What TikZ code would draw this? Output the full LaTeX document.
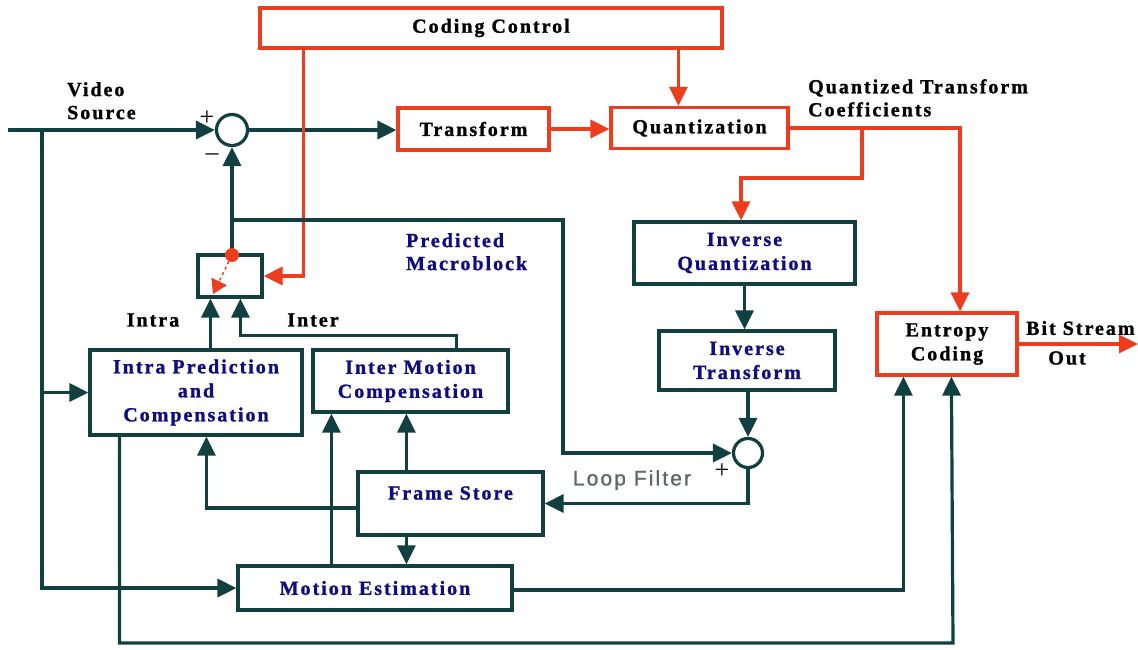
\documentclass[tikz,border=0pt]{standalone}
\usepackage{fontspec}
\setmainfont{Liberation Serif}[LetterSpace=10,BoldFeatures={FakeBold=1.2}]
\newfontfamily\loopfont{Liberation Sans}[LetterSpace=10,FakeBold=1]
\usetikzlibrary{arrows.meta,calc}
\definecolor{dk}{RGB}{18,64,64}
\definecolor{rd}{RGB}{236,62,30}
\definecolor{nv}{RGB}{14,14,130}
\definecolor{gr}{RGB}{95,105,105}
\tikzset{
  tip/.style={-{Triangle[length=19pt,width=18pt]}},
  dkline/.style={draw=dk,line width=3.2pt},
  rdline/.style={draw=rd,line width=3.2pt},
  box/.style={rectangle,fill=white,line width=3.2pt,inner sep=0pt,align=center,
    font=\bfseries\fontsize{20}{24}\selectfont},
  redbox/.style={box,draw=rd,text=black},
  dkbox/.style={box,draw=dk,text=nv},
  sumc/.style={circle,draw=dk,line width=3.2pt,fill=white,minimum size=31pt,inner sep=0pt},
  lbl/.style={inner sep=0pt,align=left,font=\bfseries\fontsize{20}{23}\selectfont},
  sgn/.style={inner sep=0pt,font=\fontsize{26}{26}\selectfont},
}
\begin{document}
\begin{tikzpicture}[x=1pt,y=-1pt]
\useasboundingbox (0,0) rectangle (1138,649);

% blocks
\node[redbox,minimum width=462pt,minimum height=40pt] (cc) at (491,28) {Coding Control};
\node[redbox,minimum width=151pt,minimum height=42pt] (tr) at (473.5,129) {Transform};
\node[redbox,minimum width=177pt,minimum height=41pt] (qu) at (699.5,128) {Quantization};
\node[dkbox,minimum width=64pt,minimum height=42pt] (sw) at (230,276) {};
\node[dkbox,minimum width=221pt,minimum height=62pt] (iq) at (744.5,253) {Inverse\\Quantization};
\node[dkbox,minimum width=176pt,minimum height=59pt] (it) at (747,360.5) {Inverse\\Transform};
\node[redbox,minimum width=140pt,minimum height=62pt] (ec) at (947,344) {Entropy\\Coding};
\node[dkbox,minimum width=212pt,minimum height=85pt] (ip) at (196,392.5) {Intra Prediction\\and\\Compensation};
\node[dkbox,minimum width=195pt,minimum height=62pt] (im) at (410.5,381) {Inter Motion\\Compensation};
\node[dkbox,minimum width=185pt,minimum height=63pt] (fs) at (450.5,503.5) {};
\node[box,text=nv,inner sep=0pt] (fst) at (450.5,493) {Frame Store};
\node[dkbox,minimum width=274pt,minimum height=44pt] (me) at (375,588) {Motion Estimation};
\node[sumc] (s1) at (232,130) {};
\node[sumc,minimum size=29pt] (s2) at (748,453) {};

% labels
\node[lbl,anchor=north west] (vs) at (67,82) {Video\\Source};
\node[lbl,anchor=north west] (qtc) at (808,79) {Quantized Transform\\Coefficients};
\node[lbl,anchor=north west,text=nv] (pm) at (406,233) {Predicted\\Macroblock};
\node[lbl] (lintra) at (153,320) {Intra};
\node[lbl] (linter) at (313,320) {Inter};
\node[lbl,anchor=west] (bs) at (1026,328) {Bit Stream};
\node[lbl] (bso) at (1067,358) {Out};
\node[inner sep=0pt,text=gr,font=\loopfont\fontsize{21}{21}\selectfont] (lf) at (632,480) {Loop Filter};
\node[sgn] (p1) at (207,118) {+};
\node[sgn] (m1) at (212,157) {\textendash};
\node[sgn] (p2) at (722,471) {+};

% free ends and bends
\coordinate (vin) at (8,130);
\coordinate (vj) at (42,130);
\coordinate (pb) at (232,220);
\coordinate (pc) at (563,220);
\coordinate (out) at (1138,345);
\coordinate (qb) at (862,128);

% forward path
\draw[dkline,tip] (vin) -- (s1.west);
\draw[dkline,tip] (s1.east) -- (s1.east -| tr.west);
\draw[rdline,tip] (tr.east) -- (tr.east -| qu.west);
\draw[rdline,tip] ($(cc.south west)+(420,0)$) -- ($(qu.north west)+(69,0)$);
\draw[rdline,tip] ($(cc.south west)+(45,0)$) |- (sw.east);
\draw[rdline,tip] (qu.east) -| ($(ec.north)+(13,0)$);
\draw[rdline,tip] (qb) |- ++(-121,50) -- ($(iq.north)+(-3.5,0)$);
\draw[rdline,tip] (ec.east) -- (ec.east -| out);

% inverse path and reconstruction
\draw[dkline,tip] (iq.south) -- (iq.south |- it.north);
\draw[dkline,tip] (it.south -| s2) -- (s2.north);
\draw[dkline,tip] (pb) -- (pc) |- (s2.west);
\draw[dkline,tip] (s2.south) |- (fs.east);

% prediction
\draw[dkline,tip] (sw.north -| s1) -- (s1.south);
\draw[dkline,tip] (vj) |- (me.west);
\draw[dkline,tip] (vj |- ip.west) -- (ip.west);
\draw[dkline,tip] ($(fs.north west)+(50,0)$) -- ($(im.south west)+(95,0)$);
\draw[dkline,tip] ($(fs.south west)+(50,0)$) -- ($(me.north west)+(170,0)$);
\draw[dkline,tip] ($(fs.west)+(0,4.5)$) -| ($(ip.south west)+(118,0)$);
\draw[dkline,tip] ($(me.north west)+(95,0)$) -- ($(im.south west)+(20,0)$);
\draw[dkline,tip] ($(ip.north west)+(122,0)$) -- ($(sw.south west)+(14,0)$);
\draw[dkline,tip] ($(im.north west)+(145,0)$) |- ++(-216,-13) -- ($(sw.south west)+(44,0)$);
\draw[dkline,tip] ($(me.east)+(0,2)$) -| ($(ec.south west)+(28,0)$);
\draw[dkline,tip] ($(ip.south west)+(31,0)$) |- (953,643) -- ($(ec.south west)+(76,0)$);

% mode switch
\node[circle,fill=rd,minimum size=14pt,inner sep=0pt] (sd) at (232,255) {};
\draw[draw=rd,line width=1.4pt,dashed,-{Triangle[length=14pt,width=17pt]}] (sd) -- (213,294);
\end{tikzpicture}
\end{document}
